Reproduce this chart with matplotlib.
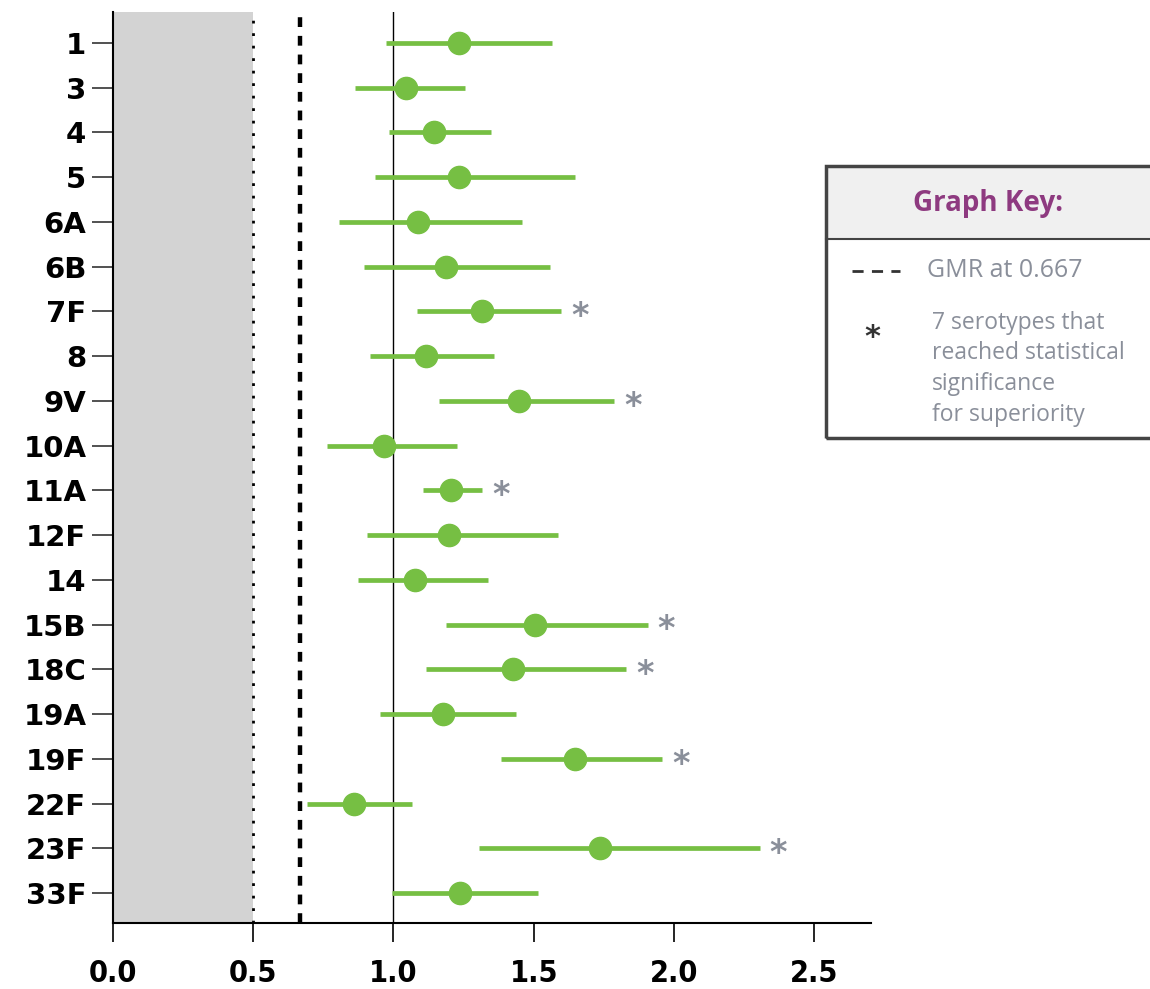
import matplotlib
matplotlib.use("Agg")
import matplotlib.pyplot as plt
from matplotlib.patches import Rectangle
from matplotlib.lines import Line2D

# serotypes, top to bottom
serotypes = ["1", "3", "4", "5", "6A", "6B", "7F", "8", "9V", "10A",
             "11A", "12F", "14", "15B", "18C", "19A", "19F", "22F", "23F", "33F"]
gmr = [1.235, 1.046, 1.146, 1.235, 1.089, 1.188, 1.317, 1.117, 1.448, 0.968,
       1.206, 1.199, 1.078, 1.505, 1.427, 1.178, 1.648, 0.858, 1.737, 1.238]
ci_low = [0.975, 0.865, 0.986, 0.936, 0.808, 0.897, 1.085, 0.915, 1.164, 0.765,
          1.107, 0.907, 0.875, 1.189, 1.117, 0.954, 1.384, 0.694, 1.306, 0.996]
ci_high = [1.566, 1.256, 1.349, 1.648, 1.459, 1.559, 1.598, 1.359, 1.786, 1.228,
           1.317, 1.587, 1.338, 1.907, 1.829, 1.438, 1.957, 1.068, 2.306, 1.516]
significant = ["7F", "9V", "11A", "15B", "18C", "19F", "23F"]
xticks = [0.0, 0.5, 1.0, 1.5, 2.0, 2.5]
margin = 0.5
ni_limit = 0.667

green = "#76bf43"
star_grey = "#8a8f9a"

fig = plt.figure(figsize=(11.5, 9.89), dpi=100)
ax = fig.add_axes([0.098, 0.0667, 0.659, 0.9213])

ax.axvspan(0, margin, color="#d3d3d3", lw=0, zorder=0)
ax.axvline(margin, color="black", ls=(0, (1, 3.5)), lw=2, zorder=1)
ax.axvline(ni_limit, color="black", ls=(0, (2.2, 2)), lw=3.2, zorder=1)
ax.axvline(1.0, color="black", lw=1, zorder=1)

ys = list(range(len(serotypes)))
for y, lo, hi, g, s in zip(ys, ci_low, ci_high, gmr, serotypes):
    ax.plot([lo, hi], [y, y], color=green, lw=3.4, solid_capstyle="butt", zorder=3)
    ax.plot(g, y, "o", color=green, ms=16, mec=green, zorder=4)
    if s in significant:
        ax.text(hi + 0.035, y + 0.12, "*", color=star_grey, fontsize=24,
                ha="left", va="center", fontweight="bold")

ax.set_ylim(19.67, -0.69)
ax.set_xlim(0, 2.7)
ax.set_yticks(ys)
ax.set_yticklabels(serotypes, fontsize=21, fontweight="bold")
ax.set_xticks(xticks)
ax.set_xticklabels([f"{v:.1f}" for v in xticks], fontsize=22, fontweight="bold",
                   fontstretch="condensed")
ax.tick_params(axis="y", length=15, width=1.2, pad=4, color="#333333")
ax.tick_params(axis="x", length=14, width=1.2, pad=12)
for side in ["top", "right"]:
    ax.spines[side].set_visible(False)
ax.spines["left"].set_linewidth(1.5)
ax.spines["bottom"].set_linewidth(1.5)

# graph key box
fig.add_artist(Rectangle((0.7183, 0.7583), 0.29, 0.0739, transform=fig.transFigure,
                         facecolor="#f0f0f0", edgecolor="none"))
fig.add_artist(Rectangle((0.7183, 0.5571), 0.29, 0.2751, transform=fig.transFigure,
                         facecolor="none", edgecolor="#444444", lw=2.5))
fig.add_artist(Line2D([0.7183, 1.0], [0.7583, 0.7583], transform=fig.transFigure,
                      color="#444444", lw=1.5))
fig.text(0.859, 0.7947, "Graph Key:", color="#8e3a80", fontsize=20, fontweight="bold",
         ha="center", va="center", family="Open Sans")
fig.add_artist(Line2D([0.741, 0.783], [0.726, 0.726], transform=fig.transFigure,
                      color="#333333", lw=2, ls=(0, (4, 3))))
fig.text(0.806, 0.726, "GMR at 0.667", color=star_grey, fontsize=18,
         ha="left", va="center", family="Open Sans")
fig.text(0.759, 0.659, "*", color="#333333", fontsize=22, fontweight="bold",
         ha="center", va="center")
fig.text(0.810, 0.686, "7 serotypes that\nreached statistical\nsignificance\nfor superiority",
         color=star_grey, fontsize=16.5, ha="left", va="top", family="Open Sans",
         linespacing=1.38)

fig.savefig("out.png", dpi=100)
